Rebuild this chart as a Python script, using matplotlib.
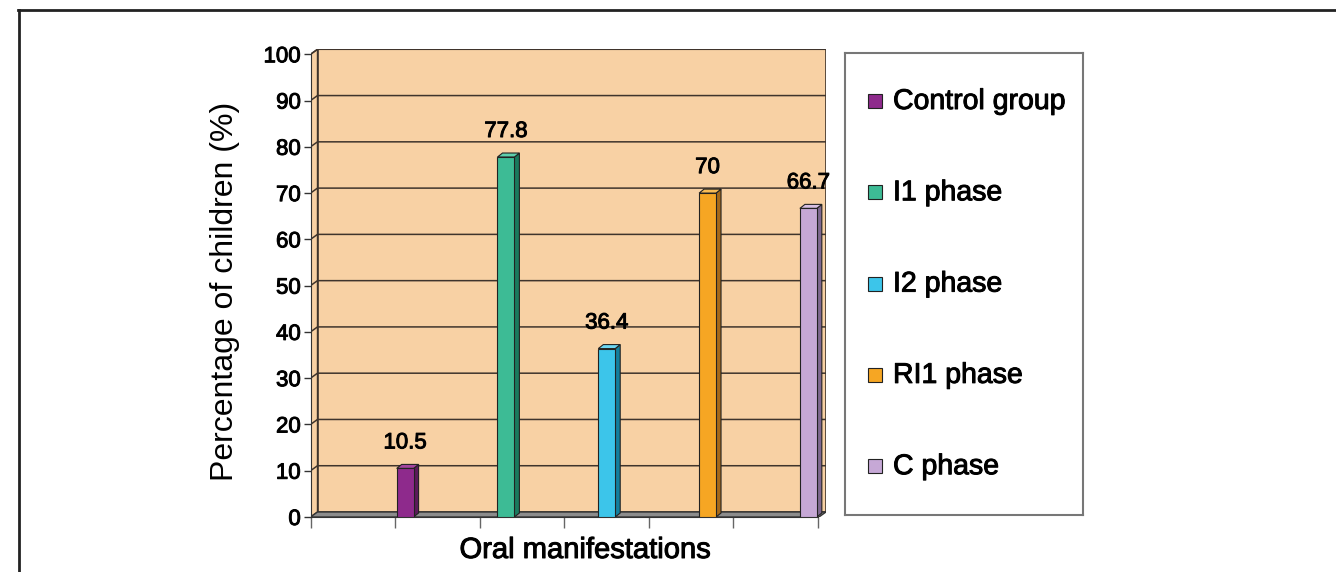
import matplotlib
matplotlib.use('Agg')
import matplotlib.pyplot as plt
import matplotlib.patheffects as pe
from matplotlib.patches import Rectangle, Polygon
from matplotlib.lines import Line2D

# Datos
series = ['Control group', 'I1 phase', 'I2 phase', 'RI1 phase', 'C phase']
valores = [10.5, 77.8, 36.4, 70, 66.7]
etiquetas = ['10.5', '77.8', '36.4', '70', '66.7']
yticks = list(range(0, 101, 10))

colores = ['#8E2A8C', '#3DBB95', '#3CC5EA', '#F6A623', '#C6A8D6']
lados = ['#5B1A5A', '#1A7A5E', '#137F9D', '#A5691A', '#7F6890']
techos = ['#A3449F', '#5FCFAC', '#6CD6F2', '#F9BC55', '#D6BFE2']

fuente = ['Liberation Sans', 'DejaVu Sans']
durazno = '#F8D1A4'
rejilla = '#3F342C'
# trazo fino para que el texto se vea algo mas grueso, como en la original
grueso = [pe.withStroke(linewidth=0.7, foreground='black')]

W, H = 1336, 572
fig = plt.figure(figsize=(W / 100, H / 100), dpi=100)

# escala en pixeles: 84.5 px por unidad en x, 4.627 px por unidad en y
ux, uy = 84.5, 4.627
ax = fig.add_axes([310.5 / W, 55 / H, (826 - 310.5) / W, (517 - 49.3) / H])
xmax = (826 - 310.5) / ux
ymax = (517 - 49.3) / uy
ax.set_xlim(0, xmax)
ax.set_ylim(0, ymax)
ax.patch.set_visible(False)

# profundidad de paredes y barras
wdx, wdy = 7 / ux, 5 / uy
bdx, bdy = 5 / ux, 4 / uy

# paredes
ax.add_patch(Polygon([(0, 0), (wdx, wdy), (wdx, 100 + wdy), (0, 100)],
                     facecolor=durazno, edgecolor=rejilla, lw=1, zorder=0))
ax.add_patch(Rectangle((wdx, wdy), xmax - wdx, 100, facecolor=durazno,
                       edgecolor=rejilla, lw=1.2, zorder=0))
ax.add_patch(Polygon([(0, 0), (xmax - wdx, 0), (xmax, wdy), (wdx, wdy)],
                     facecolor='#8C8C8C', edgecolor='#333333', lw=1, zorder=1))
for v in yticks[1:]:
    ax.plot([0, wdx, xmax], [v, v + wdy, v + wdy], color=rejilla, lw=1.1, zorder=1)

# barras
posiciones = [1.02 + i * 1.193 for i in range(len(valores))]
barras = ax.bar(posiciones, valores, width=0.2, align='edge', color=colores,
                edgecolor='#222222', linewidth=0.8, zorder=5)
for b, lado, techo, txt in zip(barras, lados, techos, etiquetas):
    x0, w, h = b.get_x(), b.get_width(), b.get_height()
    ax.add_patch(Polygon([(x0 + w, 0), (x0 + w + bdx, bdy), (x0 + w + bdx, h + bdy), (x0 + w, h)],
                         facecolor=lado, edgecolor='#222222', lw=0.8, zorder=4))
    ax.add_patch(Polygon([(x0, h), (x0 + bdx, h + bdy), (x0 + w + bdx, h + bdy), (x0 + w, h)],
                         facecolor=techo, edgecolor='#222222', lw=0.8, zorder=4))
    ax.annotate(txt, (x0 + w / 2, h + bdy), xytext=(0, 11), textcoords='offset pixels',
                ha='center', va='bottom', fontsize=16, family=fuente, path_effects=grueso)

# ejes
for s in ['top', 'right']:
    ax.spines[s].set_visible(False)
ax.spines['left'].set_bounds(0, 100)
ax.spines['left'].set_color('#333333')
ax.spines['bottom'].set_bounds(0, 6)
ax.spines['bottom'].set_color('#333333')
ax.set_yticks(yticks)
ax.set_yticklabels([str(v) for v in yticks], fontsize=16, family=fuente, path_effects=grueso)
ax.tick_params(axis='y', length=5, width=1, color='#333333', pad=2)
ax.set_xticks(range(7))
ax.set_xticklabels([])
ax.tick_params(axis='x', length=8, width=1, color='#666666')

fig.text(225 / W, 1 - 291.5 / H, 'Percentage of children (%)', rotation=90,
         ha='center', va='center', fontsize=23, family=fuente)
fig.text(585 / W, 1 - 550 / H, 'Oral manifestations', ha='center', va='center',
         fontsize=21, family=fuente, path_effects=grueso)

# leyenda
lax = fig.add_axes([845 / W, (572 - 515) / H, (1083 - 845) / W, (515 - 53) / H])
lax.set_xlim(0, 1083 - 845)
lax.set_ylim(515 - 53, 0)
lax.set_xticks([])
lax.set_yticks([])
for s in lax.spines.values():
    s.set_color('#777777')
    s.set_linewidth(1.5)
for i, (nombre, c) in enumerate(zip(series, colores)):
    yc = 48 + i * 91.3
    lax.add_patch(Rectangle((23, yc - 7), 14, 14, facecolor=c, edgecolor='#222222', lw=0.8))
    lax.text(48, yc + 1, nombre, va='center', ha='left', fontsize=20.5, family=fuente,
             path_effects=grueso)

# marco exterior
fig.add_artist(Line2D([18 / W, 1], [1 - 10 / H, 1 - 10 / H], transform=fig.transFigure,
                      color='#222222', lw=2))
fig.add_artist(Line2D([19 / W, 19 / W], [0, 1 - 10 / H], transform=fig.transFigure,
                      color='#222222', lw=2))

fig.savefig('out.png', dpi=100)
